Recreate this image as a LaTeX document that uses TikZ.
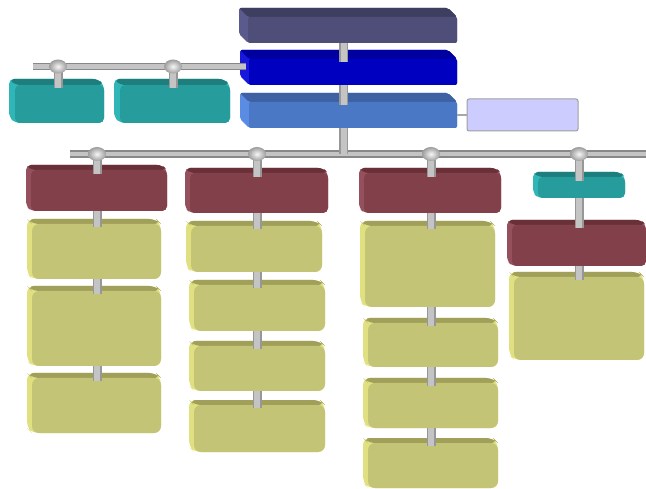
\documentclass[tikz,border=0pt]{standalone}
\usepackage{tikz}
\usetikzlibrary{calc}
\definecolor{slatefront}{HTML}{4E4E78}\definecolor{slatetop}{HTML}{3E3E60}\definecolor{slateside}{HTML}{5A5A8C}
\definecolor{bluefront}{HTML}{0000C0}\definecolor{bluetop}{HTML}{0000A0}\definecolor{blueside}{HTML}{1818DC}
\definecolor{skyfront}{HTML}{4A78C4}\definecolor{skytop}{HTML}{3D61A3}\definecolor{skyside}{HTML}{5A8CE4}
\definecolor{tealfront}{HTML}{269C9C}\definecolor{tealtop}{HTML}{1E7D7D}\definecolor{tealside}{HTML}{30B6B6}
\definecolor{maroonfront}{HTML}{82404A}\definecolor{maroontop}{HTML}{6A3038}\definecolor{maroonside}{HTML}{94505C}
\definecolor{khakifront}{HTML}{C4C476}\definecolor{khakitop}{HTML}{A0A05A}\definecolor{khakiside}{HTML}{E0E080}
\definecolor{pipeedge}{HTML}{979797}\definecolor{pipefill}{HTML}{C4C4C4}
\definecolor{notefill}{HTML}{CCCCFF}
% extruded box: name, colour family, outer x1,y1,x2,y2, depth
\def\slab(#1)[#2](#3,#4,#5,#6)(#7){%
  \fill[#2side,#2 slab] (#3,#4) -- ({#5-#7},#4) -- (#5,{#4+#7}) -- (#5,#6) -- ({#3+#7},#6) -- (#3,{#6-#7}) -- cycle;
  \fill[#2top,#2 slab] (#3,#4) -- ({#5-#7},#4) -- (#5,{#4+#7}) -- ({#3+#7},{#4+#7}) -- cycle;
  \node[slab,#2 slab,fill=#2front,minimum width={#5pt-#3pt-#7pt},minimum height={#6pt-#4pt-#7pt}] (#1) at ({(#3+#7+#5)/2},{(#4+#7+#6)/2}) {};}

\begin{document}
\begin{tikzpicture}[x=1pt,y=-1pt,
    slab/.style={rectangle,inner sep=0pt,outer sep=0pt},
    slate slab/.style={rounded corners=2pt},
    blue slab/.style={rounded corners=2pt},
    sky slab/.style={rounded corners=2pt},
    teal slab/.style={rounded corners=5pt},
    maroon slab/.style={rounded corners=5pt},
    khaki slab/.style={rounded corners=7pt},
    pipe/.style={draw=pipeedge,line width=1.5pt,double=pipefill,double distance=6pt},
    bar/.style={draw=pipeedge!90!black,line width=1.5pt,double=pipefill,double distance=4.5pt},
    knob/.style={inner color=white!85!pipefill,outer color=pipefill!80!black},
    note/.style={rectangle,fill=notefill,draw=gray!75,line width=1pt,rounded corners=2pt,inner sep=0pt,minimum width=111pt,minimum height=32pt},
    link/.style={draw=pipefill!85!black,line width=1.5pt}]
    \useasboundingbox (0,0) rectangle (646,489);
    %%%%% BOXES %%%%%
    \slab(top)[slate](239,8,457,43)(9)
    \slab(blue)[blue](240,50,457,85)(9)
    \slab(mid)[sky](240,93,457,128)(9)
    \node[note] (note) at (522.5,115) {};
    
    \slab(t1)[teal](9,79,104,123)(6)
    \slab(t2)[teal](114,79,230,123)(6)
    
    \slab(m1)[maroon](26,165,167,211)(5)
    \slab(k1a)[khaki](27,219,161,279)(5)
    \slab(k1b)[khaki](27,286,161,366)(5)
    \slab(k1c)[khaki](27,373,161,433)(5)
    
    \slab(m2)[maroon](185,168,328,213)(5)
    \slab(k2a)[khaki](186,221,322,272)(5)
    \slab(k2b)[khaki](189,280,325,331)(5)
    \slab(k2c)[khaki](189,341,325,391)(5)
    \slab(k2d)[khaki](189,400,325,452)(5)
    
    \slab(m3)[maroon](359,168,501,213)(5)
    \slab(k3a)[khaki](360,221,495,307)(5)
    \slab(k3b)[khaki](363,318,498,367)(5)
    \slab(k3c)[khaki](363,378,498,428)(5)
    \slab(k3d)[khaki](363,438,498,488)(5)
    
    \slab(t3)[teal](533,172,625,198)(5)
    \slab(m4)[maroon](507,220,646,266)(5)
    \slab(k4)[khaki](509,272,644,360)(5)
    
    %%%%% PIPES %%%%%
    \coordinate (hub) at (343.5,154);
    \coordinate (barL) at (70,154);
    \coordinate (barR) at (650,154);
    \coordinate (lbarL) at (33,66.5);
    \coordinate (c1) at (97,154);
    \coordinate (c2) at (257,154);
    \coordinate (c3) at (431,154);
    \coordinate (c4) at (579,154);
    \coordinate (l1) at (58,66.5);
    \coordinate (l2) at (173,66.5);
    
    \draw[link] (mid.east) -- (note.west);
    \draw[bar] (barL) -- (barR);
    \draw[bar] (lbarL) -- ($(lbarL -| blue.west)+(-3,0)$);
    
    \draw[pipe] (top.south -| hub) -- ($(blue.north -| hub)+(0,3)$);
    \draw[pipe] (blue.south -| hub) -- ($(mid.north -| hub)+(0,3)$);
    \draw[pipe] (mid.south -| hub) -- (hub);
    
    \draw[pipe] (l1) -- ($(t1.north -| l1)+(0,3)$);
    \draw[pipe] (l2) -- ($(t2.north -| l2)+(0,3)$);
    
    \draw[pipe] (c1) -- ($(m1.north -| c1)+(0,4)$);
    \draw[pipe] (m1.south -| c1) -- ($(k1a.north -| c1)+(0,3)$);
    \draw[pipe] (k1a.south -| c1) -- ($(k1b.north -| c1)+(0,3)$);
    \draw[pipe] (k1b.south -| c1) -- ($(k1c.north -| c1)+(0,3)$);
    
    \draw[pipe] (c2) -- ($(m2.north -| c2)+(0,4)$);
    \draw[pipe] (m2.south -| c2) -- ($(k2a.north -| c2)+(0,3)$);
    \draw[pipe] (k2a.south -| c2) -- ($(k2b.north -| c2)+(0,3)$);
    \draw[pipe] (k2b.south -| c2) -- ($(k2c.north -| c2)+(0,3)$);
    \draw[pipe] (k2c.south -| c2) -- ($(k2d.north -| c2)+(0,3)$);
    
    \draw[pipe] (c3) -- ($(m3.north -| c3)+(0,4)$);
    \draw[pipe] (m3.south -| c3) -- ($(k3a.north -| c3)+(0,3)$);
    \draw[pipe] (k3a.south -| c3) -- ($(k3b.north -| c3)+(0,3)$);
    \draw[pipe] (k3b.south -| c3) -- ($(k3c.north -| c3)+(0,3)$);
    \draw[pipe] (k3c.south -| c3) -- ($(k3d.north -| c3)+(0,3)$);
    
    \draw[pipe] (c4) -- ($(t3.north -| c4)+(0,4)$);
    \draw[pipe] (t3.south -| c4) -- ($(m4.north -| c4)+(0,3)$);
    \draw[pipe] (m4.south -| c4) -- ($(k4.north -| c4)+(0,3)$);
    
    \shade[knob] (c1) ellipse [x radius=9pt,y radius=7pt];
    \shade[knob] (c2) ellipse [x radius=9pt,y radius=7pt];
    \shade[knob] (c3) ellipse [x radius=9pt,y radius=7pt];
    \shade[knob] (c4) ellipse [x radius=9pt,y radius=7pt];
    \shade[knob] (l1) ellipse [x radius=9pt,y radius=7pt];
    \shade[knob] (l2) ellipse [x radius=9pt,y radius=7pt];
\end{tikzpicture}
\end{document}
